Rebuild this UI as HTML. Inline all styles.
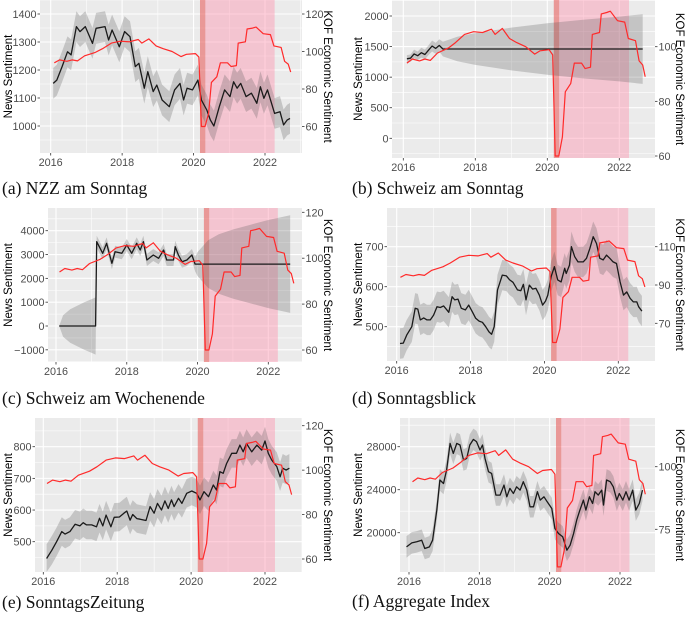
<!DOCTYPE html>
<html><head><meta charset="utf-8"><style>
html,body{margin:0;padding:0;background:#fff;overflow:hidden;}
svg{display:block;}
.tk{font-family:"Liberation Sans",sans-serif;font-size:10.8px;fill:#4d4d4d;}
.tt{font-family:"Liberation Sans",sans-serif;font-size:11.5px;fill:#000;}
.cap{font-family:"Liberation Serif",serif;font-size:17.5px;fill:#111;}
</style></head><body>
<svg id="fig" width="685" height="619" viewBox="0 0 685 619" xmlns="http://www.w3.org/2000/svg"></svg>
<script>
// Shared KOF economic sentiment series
const kofYears=[2016.1,2016.25,2016.45,2016.6,2016.75,2016.95,2017.25,2017.45,2017.7,2017.95,2018.2,2018.45,2018.55,2018.75,2018.95,2019.15,2019.4,2019.65,2019.8,2020.05,2020.15,2020.22,2020.32,2020.42,2020.5,2020.65,2020.75,2020.95,2021.05,2021.2,2021.25,2021.45,2021.5,2021.65,2021.75,2021.95,2022.15,2022.25,2022.45,2022.55,2022.65,2022.72];
const kofValues=[94,95.5,94.8,95.5,95,97.7,99.5,101.5,104.5,105.5,105.2,106.4,104.5,106.7,103,101.5,100,97.3,98.5,98.9,97,60,60,67,83.5,86.5,94,94,92,92.5,104.5,105.2,112,112.5,113,109.5,109,103,102.2,94.8,93.3,89];
const shadeDark=[2020.18,2020.33];
const shadePink=[2020.33,2022.27];
const xTickYears=[2016,2018,2020,2022];

// (a) NZZ am Sonntag
const aYears=[2016.07,2016.17,2016.32,2016.47,2016.57,2016.72,2016.82,2016.97,2017.17,2017.27,2017.52,2017.62,2017.72,2017.92,2018.07,2018.22,2018.37,2018.47,2018.62,2018.72,2018.87,2018.97,2019.12,2019.32,2019.47,2019.62,2019.72,2019.82,2019.97,2020.12,2020.22,2020.37,2020.47,2020.57,2020.72,2020.87,2021.02,2021.12,2021.22,2021.32,2021.47,2021.62,2021.77,2021.87,2021.97,2022.07,2022.27,2022.42,2022.52,2022.62,2022.7];
const aValues=[1152,1164,1212,1265,1254,1355,1337,1355,1295,1349,1355,1307,1343,1283,1337,1319,1212,1224,1135,1194,1123,1146,1093,1069,1129,1152,1093,1135,1129,1164,1093,1057,1021,1000,1069,1129,1105,1158,1135,1152,1105,1117,1081,1140,1099,1129,1045,1051,1004,1021,1027];
const aBand=55;
const aLeftTicks=[1000,1100,1200,1300,1400];
const aRightTicks=[60,80,100,120];

// (b) Schweiz am Sonntag
const bYears=[2016.1,2016.2,2016.3,2016.4,2016.5,2016.6,2016.7,2016.8,2016.9,2017.0,2017.1,2017.5,2018,2019,2020,2021,2022,2022.65];
const bValues=[1300,1310,1380,1350,1400,1370,1440,1510,1470,1520,1460,1460,1460,1460,1460,1460,1460,1460];
const bBand=[60,60,70,70,80,80,80,90,90,100,120,200,260,350,420,480,530,570];
const bLeftTicks=[0,500,1000,1500,2000];
const bRightTicks=[60,80,100];

// (c) Schweiz am Wochenende
const cYears=[2016.09,2016.2,2016.4,2016.6,2016.8,2017.0,2017.12,2017.15,2017.32,2017.43,2017.58,2017.67,2017.86,2018.0,2018.14,2018.28,2018.38,2018.47,2018.57,2018.75,2018.9,2019.04,2019.13,2019.32,2019.37,2019.46,2019.56,2019.7,2019.84,2019.93,2020.0,2020.3,2020.6,2021.0,2021.5,2022.0,2022.62];
const cValues=[0,0,0,0,0,0,0,3540,3050,3470,2630,3120,3050,3400,3050,3470,3190,3540,2770,2980,2840,3190,2770,2770,3330,2980,2700,2770,2980,2600,2600,2600,2600,2600,2600,2600,2600];
const cBand=[0,450,700,850,1000,1120,1200,250,250,250,250,250,250,250,250,250,250,250,250,250,250,250,250,250,250,250,250,250,250,300,500,1000,1250,1450,1650,1850,2050];
const cLeftTicks=[-1000,0,1000,2000,3000,4000];
const cRightTicks=[60,80,100,120];

// (d) Sonntagsblick
const dYears=[2016.09,2016.18,2016.27,2016.41,2016.5,2016.57,2016.64,2016.73,2016.82,2016.91,2017.0,2017.09,2017.18,2017.27,2017.36,2017.41,2017.5,2017.57,2017.66,2017.75,2017.86,2017.95,2018.05,2018.14,2018.23,2018.32,2018.41,2018.5,2018.57,2018.64,2018.73,2018.86,2018.97,2019.06,2019.15,2019.27,2019.36,2019.43,2019.5,2019.59,2019.68,2019.77,2019.86,2019.95,2020.03,2020.09,2020.18,2020.27,2020.36,2020.45,2020.55,2020.59,2020.68,2020.73,2020.82,2020.91,2021.05,2021.14,2021.23,2021.32,2021.41,2021.5,2021.59,2021.68,2021.77,2021.86,2021.95,2022.05,2022.14,2022.23,2022.32,2022.41,2022.5,2022.55,2022.64];
const dValues=[458,459,479,500,546,544,517,522,517,517,529,550,548,552,542,536,575,567,569,546,542,554,537,521,514,511,500,487,481,500,592,629,627,617,611,592,590,606,567,604,594,596,579,554,564,579,625,650,617,612,646,633,654,700,675,662,662,671,696,725,708,671,667,679,671,662,658,612,579,587,571,562,562,550,539];
const dBand=38;
const dLeftTicks=[500,600,700];
const dRightTicks=[70,90,110];

// (e) SonntagsZeitung
const eYears=[2016.09,2016.23,2016.36,2016.5,2016.59,2016.72,2016.86,2016.99,2017.08,2017.17,2017.31,2017.44,2017.52,2017.61,2017.7,2017.83,2017.92,2018.06,2018.18,2018.26,2018.35,2018.42,2018.53,2018.62,2018.78,2018.89,2019.0,2019.09,2019.2,2019.29,2019.38,2019.47,2019.54,2019.66,2019.75,2019.88,2020.02,2020.15,2020.24,2020.35,2020.47,2020.6,2020.69,2020.78,2020.87,2020.96,2021.1,2021.23,2021.32,2021.41,2021.5,2021.64,2021.78,2021.91,2022.0,2022.09,2022.18,2022.32,2022.41,2022.48,2022.57,2022.66];
const eValues=[447,473,500,532,524,532,555,550,560,553,553,547,574,550,584,547,577,578,590,597,568,586,573,571,567,611,590,621,600,629,605,632,611,637,621,653,660,653,632,658,642,679,663,721,716,747,779,779,805,784,810,784,805,789,818,779,758,737,705,732,726,732];
const eBand=45;
const eLeftTicks=[500,600,700,800];
const eRightTicks=[60,80,100,120];

// (f) Aggregate Index
const fYears=[2015.93,2016.08,2016.22,2016.36,2016.45,2016.58,2016.67,2016.79,2016.88,2016.98,2017.07,2017.17,2017.26,2017.36,2017.45,2017.55,2017.64,2017.73,2017.83,2017.92,2018.02,2018.09,2018.16,2018.26,2018.35,2018.47,2018.59,2018.7,2018.78,2018.87,2018.97,2019.06,2019.16,2019.25,2019.35,2019.44,2019.54,2019.65,2019.73,2019.84,2019.93,2020.06,2020.15,2020.25,2020.37,2020.49,2020.58,2020.68,2020.77,2020.86,2020.96,2021.03,2021.13,2021.22,2021.29,2021.38,2021.48,2021.53,2021.62,2021.72,2021.81,2021.91,2021.98,2022.08,2022.17,2022.26,2022.36,2022.45,2022.55,2022.64];
const fValues=[18680,19055,19150,19300,18530,18680,19300,22100,24900,24580,25830,28310,27380,28310,28155,26760,26910,28155,28680,28470,27690,28155,26910,25670,25515,23500,23500,24430,23340,24120,23650,24270,23960,24740,23960,22410,22410,23810,23030,23340,22875,22250,20390,19925,19615,18370,18840,19925,21170,22100,23030,22100,23340,22720,23810,23500,23960,22565,24900,24740,24270,23030,23650,23030,23810,23030,23960,22100,22720,23960];
const fBand=1000;
const fLeftTicks=[20000,24000,28000];
const fRightTicks=[75,100];

const NS="http://www.w3.org/2000/svg";
const svg=document.getElementById('fig');
function mk(tag,attrs,parent){const e=document.createElementNS(NS,tag);for(const k in attrs)e.setAttribute(k,attrs[k]);(parent||svg).appendChild(e);return e;}

function drawPanel(id,years,vals,band,leftTicks,rightTicks,g){
  const root=mk('g',{});
  
  
  const sx=y=>g.x16+(y-2016)*(g.x22-g.x16)/6;
  const sl=v=>g.l1y+(v-g.l1)*(g.l2y-g.l1y)/(g.l2-g.l1);
  const sr=v=>g.r1y+(v-g.r1)*(g.r2y-g.r1y)/(g.r2-g.r1);
  const W=g.x1-g.x0,H=g.y1-g.y0;
  const bg=mk('rect',{x:g.x0,y:g.y0,width:W,height:H,fill:'#ebebeb'},root);
  
  
  const cp=mk('clipPath',{id:'cp'+id},root);mk('rect',{x:g.x0,y:g.y0,width:W,height:H},cp);
  const inner=mk('g',{'clip-path':'url(#cp'+id+')'},root);
  const step=leftTicks[1]-leftTicks[0];
  for(let k=-6;k<=2*(leftTicks.length-1)+6;k++){
    const v=leftTicks[0]+k*step/2;
    const yy=sl(v);
    if(yy<g.y0||yy>g.y1) continue;
    mk('line',{x1:g.x0,x2:g.x1,y1:yy,y2:yy,stroke:'#fff','stroke-width':k%2===0?1.1:0.55},inner);
  }
  for(let yr=2015;yr<=2023;yr++){
    const xx=sx(yr);
    if(xx<g.x0||xx>g.x1) continue;
    mk('line',{x1:xx,x2:xx,y1:g.y0,y2:g.y1,stroke:'#fff','stroke-width':yr%2===0?1.1:0.55},inner);
  }
  const pk=mk('rect',{x:sx(shadePink[0]),y:g.y0,width:sx(shadePink[1])-sx(shadePink[0]),height:H,fill:'#ff8fab','fill-opacity':0.42},inner);
  
  
  const dk=mk('rect',{x:sx(shadeDark[0]),y:g.y0,width:sx(shadeDark[1])-sx(shadeDark[0]),height:H,fill:'#e8605f','fill-opacity':0.6},inner);
  
  
  const bw=i=>Array.isArray(band)?band[i]:band;
  const cl=v=>Math.max(g.y0,Math.min(g.y1,v));
  let up=years.map((y,i)=>sx(y).toFixed(1)+','+cl(sl(vals[i]+bw(i))).toFixed(1));
  let lo=years.map((y,i)=>sx(y).toFixed(1)+','+cl(sl(vals[i]-bw(i))).toFixed(1)).reverse();
  const bp=mk('polygon',{points:up.concat(lo).join(' '),fill:'#505050','fill-opacity':0.25},inner);
  
  
  const bl=mk('polyline',{points:years.map((y,i)=>sx(y).toFixed(1)+','+sl(vals[i]).toFixed(1)).join(' '),fill:'none',stroke:'#1a1a1a','stroke-width':1.3,'stroke-linejoin':'round'},inner);
  
  
  const rl=mk('polyline',{points:kofYears.map((y,i)=>sx(y).toFixed(1)+','+sr(kofValues[i]).toFixed(1)).join(' '),fill:'none',stroke:'#ff2a2a','stroke-width':1.2,'stroke-linejoin':'round'},inner);
  
  
  leftTicks.forEach(v=>{
    const y=sl(v);
    mk('line',{x1:g.x0-2.5,x2:g.x0,y1:y,y2:y,stroke:'#333','stroke-width':0.8},root);
    const t=mk('text',{x:g.x0-3.5,y:y+4,'text-anchor':'end',class:'tk'},root);
    t.textContent=v<0?'\u2212'+Math.abs(v):String(v);
    
    
  });
  rightTicks.forEach(v=>{
    const y=sr(v);
    mk('line',{x1:g.x1,x2:g.x1+2.5,y1:y,y2:y,stroke:'#333','stroke-width':0.8},root);
    const t=mk('text',{x:g.x1+3.5,y:y+4,class:'tk'},root);
    t.textContent=String(v);
    
    
  });
  xTickYears.forEach(yr=>{
    const x=sx(yr);
    mk('line',{x1:x,x2:x,y1:g.y1,y2:g.y1+2.5,stroke:'#333','stroke-width':0.8},root);
    const t=mk('text',{x:x,y:g.y1+13,'text-anchor':'middle',class:'tk'},root);
    t.textContent=String(yr);
    
    
  });
  const cy=(g.y0+g.y1)/2;
  const lt=mk('text',{x:0,y:0,'text-anchor':'middle',class:'tt',transform:'translate('+(g.ltx)+','+cy+') rotate(-90)'},root);
  lt.textContent='News Sentiment';
  
  
  const rt=mk('text',{x:0,y:0,'text-anchor':'middle',class:'tt',transform:'translate('+(g.rtx)+','+cy+') rotate(90)'},root);
  rt.textContent='KOF Economic Sentiment';
  
  
  const cap=mk('text',{x:g.capx,y:g.capy,class:'cap'},root);
  cap.textContent=g.cap;
  
  
}

drawPanel('a',aYears,aValues,aBand,aLeftTicks,aRightTicks,
 {x0:40,x1:302,y0:0,y1:153,x16:50.7,x22:265,l1:1400,l1y:14,l2:1000,l2y:126,r1:120,r1y:14,r2:60,r2y:126.5,ltx:12,rtx:324,capx:2,capy:194,cap:'(a) NZZ am Sonntag'});
drawPanel('b',bYears,bValues,bBand,bLeftTicks,bRightTicks,
 {x0:392,x1:655,y0:0,y1:158,x16:403.3,x22:619.3,l1:2000,l1y:16,l2:0,l2y:138.3,r1:100,r1y:46.7,r2:60,r2y:156,ltx:362,rtx:676,capx:352,capy:194,cap:'(b) Schweiz am Sonntag'});
drawPanel('c',cYears,cValues,cBand,cLeftTicks,cRightTicks,
 {x0:48,x1:302,y0:208,y1:362,x16:56,x22:268.3,l1:4000,l1y:230.7,l2:0,l2y:326,r1:120,r1y:212.3,r2:60,r2y:350,ltx:12,rtx:324,capx:2,capy:404,cap:'(c) Schweiz am Wochenende'});
drawPanel('d',dYears,dValues,dBand,dLeftTicks,dRightTicks,
 {x0:387,x1:655,y0:208,y1:361,x16:396.7,x22:618.3,l1:700,l1y:246.7,l2:500,l2y:326.7,r1:110,r1y:246.7,r2:70,r2y:323.3,ltx:362,rtx:676,capx:352,capy:404,cap:'(d) Sonntagsblick'});
drawPanel('e',eYears,eValues,eBand,eLeftTicks,eRightTicks,
 {x0:35,x1:302,y0:418,y1:572,x16:43.3,x22:265,l1:800,l1y:446.7,l2:500,l2y:541.7,r1:120,r1y:425.7,r2:60,r2y:559,ltx:12,rtx:324,capx:2,capy:608,cap:'(e) SonntagsZeitung'});
drawPanel('f',fYears,fValues,fBand,fLeftTicks,fRightTicks,
 {x0:400,x1:655,y0:418,y1:572,x16:409,x22:620,l1:28000,l1y:446.7,l2:20000,l2y:532.7,r1:100,r1y:466.7,r2:75,r2y:529.3,ltx:362,rtx:676,capx:352,capy:607,cap:'(f) Aggregate Index'});
</script>
</body></html>
